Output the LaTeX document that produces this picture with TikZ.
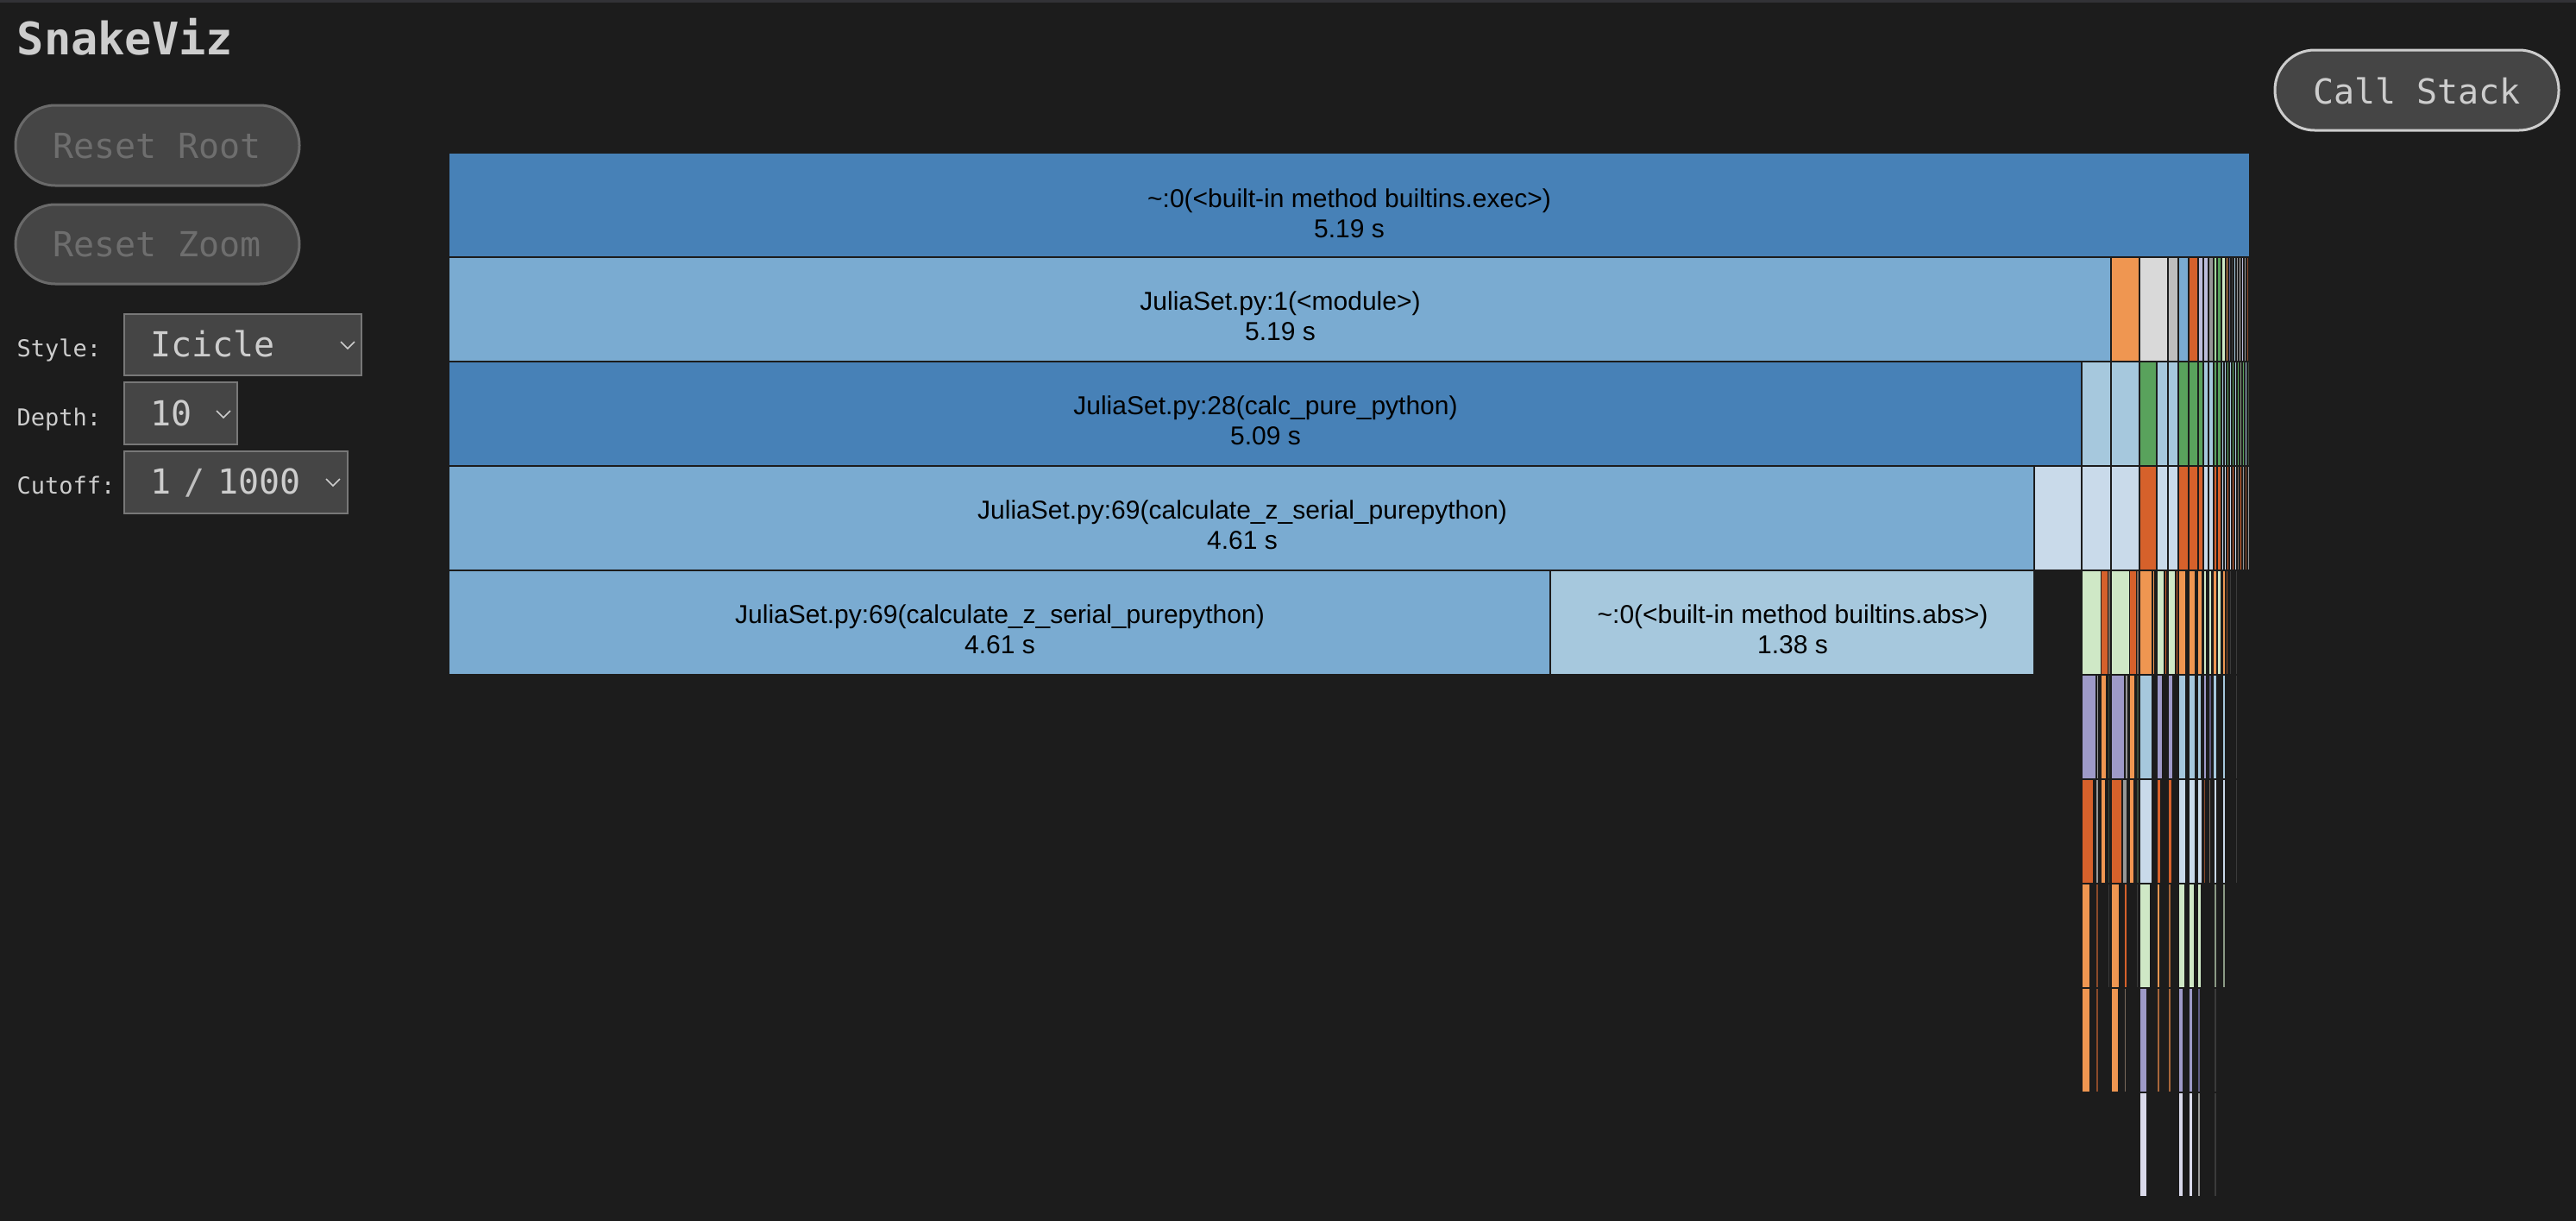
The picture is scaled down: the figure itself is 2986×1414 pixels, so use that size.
\documentclass[tikz,border=0pt]{standalone}
\usepackage{fontspec}
\setmainfont{Liberation Sans}
\newfontfamily\uimono{DejaVu Sans Mono}
\definecolor{bgc}{HTML}{1C1C1C}
\definecolor{topc}{HTML}{323236}
\definecolor{btnfill}{HTML}{454545}
\definecolor{btnedge}{HTML}{6A6A6A}
\definecolor{btntext}{HTML}{6E6E6E}
\definecolor{uitext}{HTML}{CDCDCD}
\definecolor{seledge}{HTML}{787878}
\definecolor{steel}{HTML}{4781B7}
\definecolor{midblue}{HTML}{7AABD1}
\definecolor{lightblue}{HTML}{A6C8DD}
\definecolor{paleblue}{HTML}{C9DAEA}
\definecolor{orng}{HTML}{EF9651}
\definecolor{dorng}{HTML}{D6612B}
\definecolor{lgray}{HTML}{D9D9D9}
\definecolor{mgray}{HTML}{BDBDBD}
\definecolor{dgray}{HTML}{969696}
\definecolor{lav}{HTML}{BCBDDC}
\definecolor{grn}{HTML}{59A25C}
\definecolor{lgrn}{HTML}{A1D99B}
\definecolor{vlgrn}{HTML}{CFE8C6}
\definecolor{purp}{HTML}{9E9AC8}
\definecolor{llav}{HTML}{DADAEB}
\definecolor{gbrown}{HTML}{7A6A5C}
\definecolor{dkgrn}{HTML}{3A4A3A}
\definecolor{brwn}{HTML}{8B4A2A}
\definecolor{borng}{HTML}{A8663A}
\definecolor{gygrn}{HTML}{8A9A85}
\definecolor{dpurp}{HTML}{5D5A80}
\definecolor{dark}{HTML}{3A3A3A}
% frame: #1,#2 = x range, #3 = row, #4 = colour
\newcommand\fr[4]{\fill[#4] ({#1+1},{178.3+121*(#3-1)}) rectangle ({#2-1},{175.7+121*#3});}
\tikzset{
  lbl/.style={anchor=base, inner sep=0pt, text=black, font=\fontsize{30}{35}\selectfont},
  uibtn/.style={fill=btnfill, draw=btnedge, line width=3pt, rounded corners=46pt},
  btntxt/.style={anchor=base, inner sep=0pt, text=btntext, font=\uimono\fontsize{40}{48}\selectfont},
  uilabel/.style={anchor=base west, inner sep=0pt, text=uitext, font=\uimono\fontsize{27}{32}\selectfont},
  seltext/.style={anchor=base west, inner sep=0pt, text=uitext, font=\uimono\fontsize{40}{48}\selectfont},
  selbox/.style={fill=btnfill, draw=seledge, line width=2pt},
  chev/.style={draw=uitext, line width=1.6pt},
}
\begin{document}
\begin{tikzpicture}[x=1pt,y=-1pt]
\useasboundingbox (0,0) rectangle (2986,1414);
\fill[bgc] (-10,-10) rectangle (2996,1424);
\fill[topc] (-10,-10) rectangle (2996,2.5);

% ---------- left panel ----------
\node[anchor=base west, inner sep=0pt, text=uitext, font=\uimono\bfseries\fontsize{52}{60}\selectfont] (title) at (19.5,63) {SnakeViz};

\path[uibtn] (18,122) rectangle (347,215);
\node[btntxt] (resetroot) at (182,183) {Reset Root};
\path[uibtn] (18,237) rectangle (347,329);
\node[btntxt] (resetzoom) at (182,297) {Reset Zoom};

\node[uilabel] (stylelbl) at (19.5,413) {Style:};
\path[selbox] (144,364) rectangle (419,435);
\node[seltext] (styleval) at (174,413) {Icicle};
\draw[chev] (395,396) -- (403,404) -- (411,396);

\node[uilabel] (depthlbl) at (19.5,493) {Depth:};
\path[selbox] (144,443) rectangle (275,515);
\node[seltext] (depthval) at (174,493) {10};
\draw[chev] (251,476) -- (259,484) -- (267,476);

\node[uilabel] (cutlbl) at (19.5,572) {Cutoff:};
\path[selbox] (144,523) rectangle (403,595);
\node[seltext] (cutval) at (174,572) {1 \kern-9pt{\color{lightgray}/}\kern-9pt\ 1000};
\draw[chev] (378,555) -- (386,563) -- (394,555);

% ---------- call stack button ----------
\path[uibtn, draw=uitext] (2637,58) rectangle (2966,151);
\node[btntxt, text=uitext] (callstack) at (2801.5,120) {Call Stack};

% ---------- main frames ----------
\fr{520}{2608}{1}{steel}
\fr{520}{2447}{2}{midblue}
\fr{520}{2413}{3}{steel}
\fr{520}{2358}{4}{midblue}
\fr{520}{1797}{5}{midblue}
\fr{1797}{2358}{5}{lightblue}

\node[lbl] (r1a) at (1564,240) {\textasciitilde:0(<built-in method builtins.exec>)};
\node[lbl] (r1b) at (1564,275) {5.19 s};
\node[lbl] (r2a) at (1484,359) {JuliaSet.py:1(<module>)};
\node[lbl] (r2b) at (1484,394) {5.19 s};
\node[lbl] (r3a) at (1467,480) {JuliaSet.py:28(calc\_pure\_python)};
\node[lbl] (r3b) at (1467,515) {5.09 s};
\node[lbl] (r4a) at (1440,601) {JuliaSet.py:69(calculate\_z\_serial\_purepython)};
\node[lbl] (r4b) at (1440,636) {4.61 s};
\node[lbl] (r5a) at (1159,722) {JuliaSet.py:69(calculate\_z\_serial\_purepython)};
\node[lbl] (r5b) at (1159,757) {4.61 s};
\node[lbl] (r5c) at (2078,722) {\textasciitilde:0(<built-in method builtins.abs>)};
\node[lbl] (r5d) at (2078,757) {1.38 s};

% ---------- row 2 small frames ----------
\fr{2447}{2480}{2}{orng}
\fr{2480}{2513}{2}{lgray}
\fr{2513}{2525}{2}{mgray}
\fr{2525}{2537}{2}{midblue}
\fr{2537}{2548}{2}{dorng}
\fr{2548}{2554}{2}{lav}
\fr{2554}{2560}{2}{lav}
\fr{2560}{2566}{2}{dgray}
\fr{2566}{2570}{2}{lgrn}
\fr{2570}{2575}{2}{grn}
\fr{2575}{2580}{2}{vlgrn}
\fr{2580}{2583}{2}{orng}
\fr{2583}{2586}{2}{dpurp}
\fr{2586}{2589}{2}{dark}
\fr{2589}{2592}{2}{lightblue}
\fr{2592}{2595}{2}{dgray}
\fr{2595}{2598}{2}{mgray}
\fr{2598}{2601}{2}{lav}
\fr{2601}{2604}{2}{dgray}
\fr{2604}{2607}{2}{brwn}

% ---------- row 3 ----------
\fr{2413}{2447}{3}{lightblue}
\fr{2447}{2480}{3}{lightblue}
\fr{2480}{2500}{3}{grn}
\fr{2500}{2513}{3}{lightblue}
\fr{2513}{2525}{3}{lightblue}
\fr{2525}{2537}{3}{grn}
\fr{2537}{2548}{3}{grn}
\fr{2548}{2554}{3}{grn}
\fr{2554}{2560}{3}{lightblue}
\fr{2560}{2566}{3}{lightblue}
\fr{2566}{2570}{3}{grn}
\fr{2570}{2575}{3}{grn}
\fr{2575}{2578}{3}{lightblue}
\fr{2578}{2581}{3}{lightblue}
\fr{2581}{2584}{3}{grn}
\fr{2584}{2587}{3}{lightblue}
\fr{2587}{2590}{3}{grn}
\fr{2590}{2593}{3}{lightblue}
\fr{2593}{2596}{3}{grn}
\fr{2596}{2599}{3}{gygrn}
\fr{2599}{2602}{3}{grn}
\fr{2602}{2605}{3}{lightblue}
\fr{2605}{2608}{3}{dkgrn}

% ---------- row 4 ----------
\fr{2358}{2413}{4}{paleblue}
\fr{2413}{2447}{4}{paleblue}
\fr{2447}{2480}{4}{paleblue}
\fr{2480}{2500}{4}{dorng}
\fr{2500}{2513}{4}{paleblue}
\fr{2513}{2525}{4}{paleblue}
\fr{2525}{2537}{4}{dorng}
\fr{2537}{2548}{4}{dorng}
\fr{2548}{2554}{4}{dorng}
\fr{2554}{2560}{4}{paleblue}
\fr{2560}{2566}{4}{paleblue}
\fr{2566}{2570}{4}{dorng}
\fr{2570}{2575}{4}{dorng}
\fr{2575}{2578}{4}{paleblue}
\fr{2578}{2581}{4}{paleblue}
\fr{2581}{2584}{4}{dorng}
\fr{2584}{2587}{4}{paleblue}
\fr{2587}{2590}{4}{dorng}
\fr{2590}{2593}{4}{paleblue}
\fr{2593}{2596}{4}{gbrown}
\fr{2596}{2599}{4}{dorng}
\fr{2599}{2602}{4}{dgray}
\fr{2602}{2605}{4}{brwn}
\fr{2605}{2608}{4}{dgray}

% ---------- row 5 ----------
\fr{2413}{2436}{5}{vlgrn}
\fr{2435}{2444}{5}{dorng}
\fr{2443}{2447}{5}{gbrown}
\fr{2447}{2469}{5}{vlgrn}
\fr{2468}{2477}{5}{dorng}
\fr{2476}{2480}{5}{gbrown}
\fr{2480}{2495}{5}{orng}
\fr{2495}{2498}{5}{orng}
\fr{2500}{2509}{5}{vlgrn}
\fr{2509}{2512}{5}{dorng}
\fr{2513}{2522}{5}{vlgrn}
\fr{2521.5}{2524.5}{5}{dorng}
\fr{2525}{2534}{5}{orng}
\fr{2537}{2545}{5}{orng}
\fr{2547}{2553}{5}{orng}
\fr{2554}{2558}{5}{vlgrn}
\fr{2560}{2564}{5}{vlgrn}
\fr{2565}{2570}{5}{orng}
\fr{2570}{2575}{5}{vlgrn}
\fr{2576}{2580}{5}{orng}
\fr{2580}{2583}{5}{brwn}
\fr{2584}{2587}{5}{dark}
\fr{2591}{2594}{5}{dark}

% ---------- row 6 ----------
\fr{2413}{2430}{6}{purp}
\fr{2430}{2433}{6}{dgray}
\fr{2435}{2442}{6}{orng}
\fr{2443}{2446}{6}{dkgrn}
\fr{2446.5}{2463}{6}{purp}
\fr{2463}{2467}{6}{dgray}
\fr{2468}{2475}{6}{orng}
\fr{2476}{2480}{6}{dkgrn}
\fr{2480}{2495}{6}{lightblue}
\fr{2500}{2507}{6}{purp}
\fr{2513}{2519}{6}{purp}
\fr{2525}{2534}{6}{lightblue}
\fr{2537}{2545}{6}{lightblue}
\fr{2547}{2552}{6}{lightblue}
\fr{2554}{2558}{6}{purp}
\fr{2560}{2563.5}{6}{dpurp}
\fr{2565}{2570}{6}{lightblue}
\fr{2576}{2580}{6}{lightblue}
\fr{2591}{2594}{6}{dark}

% ---------- row 7 ----------
\fr{2413}{2427}{7}{dorng}
\fr{2429}{2433}{7}{dgray}
\fr{2435}{2441}{7}{orng}
\fr{2443}{2446}{7}{dkgrn}
\fr{2446.5}{2460}{7}{dorng}
\fr{2460}{2466}{7}{dgray}
\fr{2468}{2474}{7}{orng}
\fr{2476}{2479.5}{7}{dkgrn}
\fr{2480}{2495}{7}{paleblue}
\fr{2500}{2505}{7}{dorng}
\fr{2513}{2518}{7}{dorng}
\fr{2525}{2534}{7}{paleblue}
\fr{2537}{2545}{7}{paleblue}
\fr{2547}{2553}{7}{paleblue}
\fr{2554}{2557}{7}{brwn}
\fr{2560}{2563}{7}{gbrown}
\fr{2566}{2570}{7}{paleblue}
\fr{2576}{2580}{7}{paleblue}
\fr{2591}{2594}{7}{dark}

% ---------- row 8 ----------
\fr{2413}{2423}{8}{orng}
\fr{2429}{2433}{8}{brwn}
\fr{2443}{2446}{8}{dark}
\fr{2447}{2457}{8}{orng}
\fr{2462}{2466}{8}{dorng}
\fr{2476}{2479}{8}{dark}
\fr{2480}{2493}{8}{vlgrn}
\fr{2500}{2504}{8}{orng}
\fr{2513}{2517}{8}{borng}
\fr{2525}{2533}{8}{vlgrn}
\fr{2537}{2544}{8}{vlgrn}
\fr{2547}{2552}{8}{vlgrn}
\fr{2566}{2570}{8}{gygrn}
\fr{2576}{2579.5}{8}{gygrn}

% ---------- row 9 ----------
\fr{2413}{2423}{9}{orng}
\fr{2429}{2432.5}{9}{brwn}
\fr{2447}{2456}{9}{orng}
\fr{2462}{2465}{9}{gbrown}
\fr{2480}{2489}{9}{purp}
\fr{2500}{2504}{9}{borng}
\fr{2513}{2517}{9}{borng}
\fr{2525}{2531}{9}{purp}
\fr{2537}{2542}{9}{purp}
\fr{2547}{2551}{9}{dpurp}
\fr{2566}{2569.5}{9}{dark}

% ---------- row 10 ----------
\fr{2480}{2489}{10}{llav}
\fr{2525}{2531}{10}{llav}
\fr{2537}{2542}{10}{llav}
\fr{2547}{2551}{10}{dgray}
\fr{2566}{2569.5}{10}{dark}
\end{tikzpicture}
\end{document}
